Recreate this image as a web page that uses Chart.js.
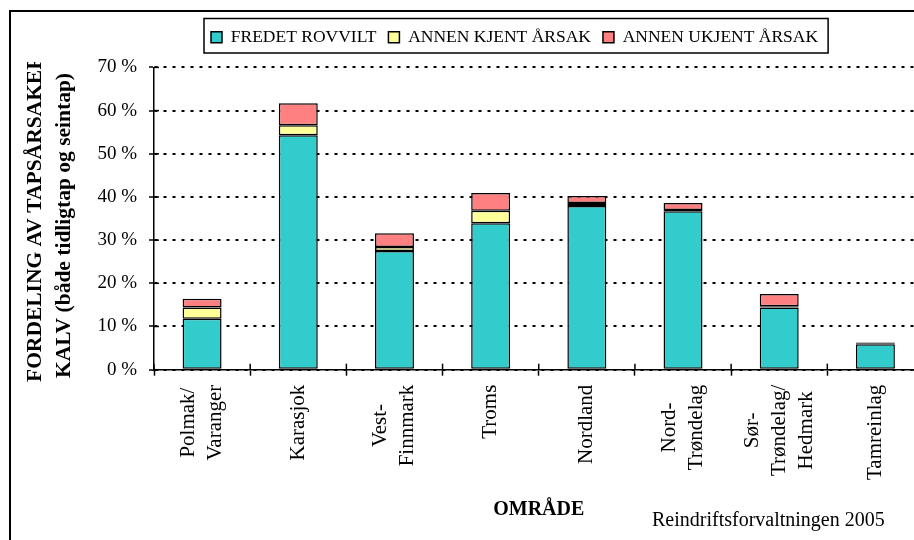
<!DOCTYPE html>
<html>
<head>
<meta charset="utf-8">
<title>Fordeling av tapsårsaker kalv</title>
<style>
  html, body { margin: 0; padding: 0; background: #fff; overflow: hidden; }
  #wrap { width: 930px; height: 540px; }
</style>
<script src="https://cdn.jsdelivr.net/npm/chart.js@4.4.1/dist/chart.umd.min.js"></script>
</head>
<body>
<div id="wrap"><canvas id="chart" width="930" height="540"></canvas></div>
<script>
// Data (percent of calves lost, by cause)
const areaLabels = [
    ['Polmak/', 'Varanger'], 'Karasjok', ['Vest-', 'Finnmark'], 'Troms', 'Nordland',
    ['Nord-', 'Trøndelag'], ['Sør-', 'Trøndelag/', 'Hedmark'], 'Tamreinlag'
];
const fredetRovvilt = [11.8, 54.3, 27.5, 33.9, 37.9, 36.7, 14.4, 5.9];
const annenKjent    = [2.6, 2.3, 0.9, 2.9, 0.7, 0.3, 0.3, 0.2];
const annenUkjent   = [2.0, 5.1, 3.2, 4.1, 1.6, 1.6, 2.8, 0.2];
const seriesNames = ['FREDET ROVVILT', 'ANNEN KJENT ÅRSAK', 'ANNEN UKJENT ÅRSAK'];
const yTitle = ['FORDELING AV TAPSÅRSAKER', 'KALV (både tidligtap og seintap)'];
const xTitle = 'OMRÅDE';
const sourceText = 'Reindriftsforvaltningen 2005';

const SERIF = '"Liberation Serif", "Times New Roman", serif';
Chart.defaults.font.family = SERIF;
Chart.defaults.color = '#000';

const LABEL_LINE = 27;

// frame, legend box, crossing tick marks, rotated category labels, y title, source
const decorations = {
    id: 'decorations',
    afterUpdate(chart) {
        const lg = chart.legend;
        const dx = 211 - lg.legendHitBoxes[0].left;
        lg.left += dx;
        lg.right += dx;
        lg.legendHitBoxes.forEach(h => { h.left += dx; });
    },
    afterDraw(chart) {
        const ctx = chart.ctx;
        const xs = chart.scales.x;
        const ys = chart.scales.y;
        ctx.save();
        ctx.strokeStyle = '#000';
        ctx.fillStyle = '#000';

        // outer frame
        ctx.lineWidth = 2;
        ctx.strokeRect(10, 11, 1000, 600);

        // box round the legend
        const hb = chart.legend.legendHitBoxes;
        const first = hb[0], last = hb[hb.length - 1];
        ctx.lineWidth = 1.5;
        const bx = first.left - 7;
        ctx.strokeRect(bx, first.top - 10, last.left + last.width + 10 - bx, first.height + 17);

        // inner halves of the tick marks
        ctx.lineWidth = 1.5;
        const half = (xs.getPixelForValue(1) - xs.getPixelForValue(0)) / 2;
        for (let i = 0; i <= areaLabels.length; i++) {
            const px = xs.getPixelForValue(i) - half;
            ctx.beginPath();
            ctx.moveTo(px, xs.top);
            ctx.lineTo(px, xs.top - 6);
            ctx.stroke();
        }
        ys.ticks.forEach(t => {
            const py = ys.getPixelForValue(t.value);
            ctx.beginPath();
            ctx.moveTo(ys.right, py);
            ctx.lineTo(ys.right + 5, py);
            ctx.stroke();
        });

        // category labels, read bottom to top, lines centred on the bar
        ctx.font = '21px ' + SERIF;
        ctx.textAlign = 'center';
        ctx.textBaseline = 'middle';
        const top = xs.top + xs.options.grid.tickLength + xs.options.ticks.padding;
        areaLabels.forEach((lab, i) => {
            const lines = [].concat(lab);
            const w = Math.max(...lines.map(s => ctx.measureText(s).width));
            const cx = xs.getPixelForValue(i);
            lines.forEach((s, j) => {
                ctx.save();
                ctx.translate(cx + (j - (lines.length - 1) / 2) * LABEL_LINE, top + w / 2);
                ctx.rotate(-Math.PI / 2);
                ctx.fillText(s, 0, 0);
                ctx.restore();
            });
        });

        // y axis title (first line is cut at the top, as in the original)
        ctx.save();
        ctx.beginPath();
        ctx.rect(0, 62, 150, 478);
        ctx.clip();
        ctx.font = 'bold 21.5px ' + SERIF;
        ctx.textAlign = 'left';
        ctx.textBaseline = 'middle';
        [[35, 382], [64, 378]].forEach((p, k) => {
            ctx.save();
            ctx.translate(p[0], p[1]);
            ctx.rotate(-Math.PI / 2);
            ctx.fillText(yTitle[k], 0, 0);
            ctx.restore();
        });
        ctx.restore();

        // source
        ctx.font = '20px ' + SERIF;
        ctx.textAlign = 'left';
        ctx.textBaseline = 'middle';
        ctx.fillText(sourceText, 652, 521);
        ctx.restore();
    }
};

const colors = ['#33CCCC', '#FFFF99', '#FF8080'];
const values = [fredetRovvilt, annenKjent, annenUkjent];

new Chart(document.getElementById('chart'), {
    type: 'bar',
    data: {
        labels: areaLabels,
        datasets: values.map((v, i) => ({
            label: seriesNames[i],
            data: v,
            backgroundColor: colors[i],
            borderColor: '#000',
            borderWidth: 1.5,
            borderSkipped: false,
            categoryPercentage: 1,
            barPercentage: 0.405
        }))
    },
    options: {
        responsive: false,
        animation: false,
        layout: { padding: { left: 90, right: 6.5, top: 16.5, bottom: 7 } },
        plugins: {
            legend: {
                position: 'top',
                labels: {
                    boxWidth: 11,
                    boxHeight: 11,
                    padding: 12,
                    color: '#000',
                    font: { size: 17.5 }
                }
            },
            // thin empty title, only used as a gap under the legend
            title: { display: true, text: '', weight: 500, padding: 0, font: { size: 9.5 } },
            tooltip: { enabled: false }
        },
        scales: {
            x: {
                stacked: true,
                grid: {
                    offset: true,
                    drawOnChartArea: false,
                    tickLength: 6,
                    tickColor: '#000',
                    tickWidth: 1.5
                },
                border: { color: '#000', width: 1.5 },
                ticks: {
                    autoSkip: false,
                    minRotation: 90,
                    maxRotation: 90,
                    padding: 9,
                    color: 'rgba(0,0,0,0)',
                    font: { size: 21, lineHeight: 1.3 }
                },
                title: {
                    display: true,
                    text: xTitle,
                    color: '#000',
                    font: { size: 20, weight: 'bold' },
                    padding: { top: 9, bottom: 11 }
                }
            },
            y: {
                stacked: true,
                min: 0,
                max: 70,
                afterFit(scale) { scale.width = 64; },
                grid: {
                    color: '#000',
                    lineWidth: 2,
                    tickLength: 5,
                    tickColor: '#000',
                    tickWidth: 1.5,
                    tickBorderDash: []
                },
                border: { color: '#000', width: 1.5, dash: [3, 6] },
                ticks: {
                    stepSize: 10,
                    padding: 12,
                    color: '#000',
                    font: { size: 19 },
                    callback: v => v + ' %'
                }
            }
        }
    },
    plugins: [decorations]
});
</script>
</body>
</html>
